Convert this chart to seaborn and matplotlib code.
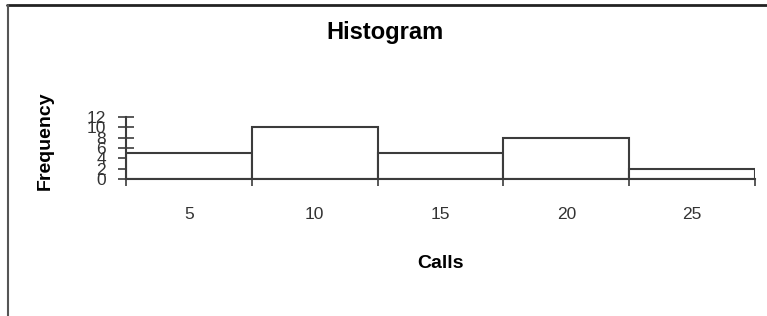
import seaborn as sns
import pandas as pd
import matplotlib.pyplot as plt
from matplotlib.lines import Line2D

# data
calls = [5, 10, 15, 20, 25]
frequency = [5, 10, 5, 8, 2]
y_ticks = [0, 2, 4, 6, 8, 10, 12]

df = pd.DataFrame({"Calls": calls, "Frequency": frequency})

sns.set_style("white")
plt.rcParams["font.family"] = ["Liberation Sans", "DejaVu Sans"]
narrow = ["Liberation Sans Narrow", "Liberation Sans", "DejaVu Sans"]

edge = "#3c3c3c"

fig = plt.figure(figsize=(7.67, 3.16), dpi=100)
ax = fig.add_axes([126 / 767, 1 - 179 / 316, 629 / 767, 62 / 316])

sns.barplot(data=df, x="Calls", y="Frequency", color="white",
            edgecolor=edge, linewidth=1.5, width=1.0, ax=ax)

ax.set_xlim(-0.5, len(calls) - 0.5)
ax.set_ylim(0, 12)
sns.despine(ax=ax)
for s in ["left", "bottom"]:
    ax.spines[s].set_color(edge)
    ax.spines[s].set_linewidth(1.5)

# y axis: crossing ticks, overlapping labels like the original
ax.set_yticks(y_ticks)
ax.set_yticklabels([str(v) for v in y_ticks], family=narrow, fontsize=12.5,
                   color="#333333")
ax.tick_params(axis="y", left=True, direction="inout", length=11, width=1.2,
               color=edge, pad=9)

# x axis: labels at bar centres, tick marks at bar boundaries
ax.set_xticks(range(len(calls)))
ax.set_xticklabels([str(c) for c in calls], family=narrow, fontsize=12.5,
                   color="#333333")
ax.tick_params(axis="x", which="major", bottom=True, length=0, pad=20)
ax.set_xticks([i - 0.5 for i in range(len(calls) + 1)], minor=True)
ax.tick_params(axis="x", which="minor", bottom=True, direction="out",
               length=5, width=1.2, color=edge)

ax.set_xlabel("Calls", fontsize=14, fontweight="bold", labelpad=24,
              color="black")
ax.set_ylabel("")
fig.text(45 / 767, 1 - 141 / 316, "Frequency", rotation=90, ha="center",
         va="center", fontsize=14, fontweight="bold", color="black")
fig.text(385 / 767, 1 - 32 / 316, "Histogram", ha="center", va="center",
         fontsize=17, fontweight="bold", color="black")

# chart area border (top and left visible)
fig.add_artist(Line2D([7 / 767, 1], [1 - 5 / 316, 1 - 5 / 316],
                      transform=fig.transFigure, color="#222222", lw=2))
fig.add_artist(Line2D([8 / 767, 8 / 767], [0, 1 - 5 / 316],
                      transform=fig.transFigure, color="#555555", lw=1.5))

fig.savefig("out.png", dpi=100)
